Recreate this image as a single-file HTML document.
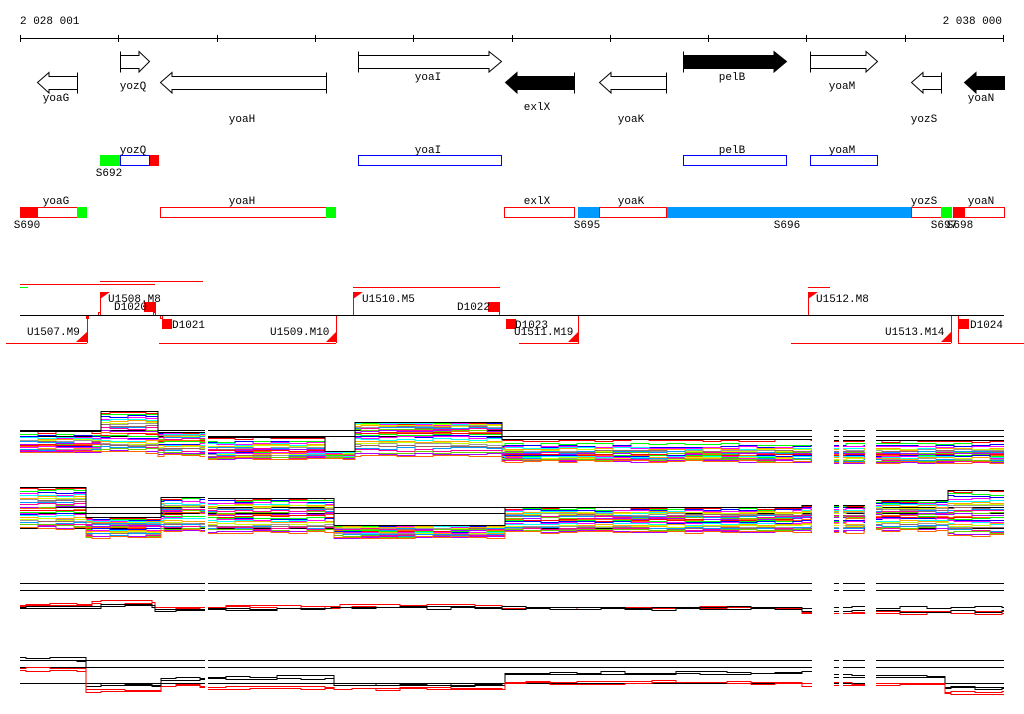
<!DOCTYPE html>
<html><head><meta charset="utf-8"><style>
html,body{margin:0;padding:0;background:#fff;width:1024px;height:714px;overflow:hidden}
svg{display:block}
text{font-family:"Liberation Mono",monospace;font-size:11px;fill:#000}
</style></head><body>
<svg id="s" width="1024" height="714" viewBox="0 0 1024 714" xmlns="http://www.w3.org/2000/svg" shape-rendering="crispEdges">
<text x="20" y="24">2 028 001</text>
<text x="1002" y="24" text-anchor="end">2 038 000</text>
<line x1="20" y1="38.5" x2="1004" y2="38.5" stroke="#000"/>
<g stroke="#000">
<line x1="20.5" y1="35" x2="20.5" y2="42"/><line x1="118.5" y1="35" x2="118.5" y2="42"/><line x1="217.5" y1="35" x2="217.5" y2="42"/><line x1="315.5" y1="35" x2="315.5" y2="42"/><line x1="413.5" y1="35" x2="413.5" y2="42"/><line x1="512.5" y1="35" x2="512.5" y2="42"/><line x1="610.5" y1="35" x2="610.5" y2="42"/><line x1="708.5" y1="35" x2="708.5" y2="42"/><line x1="806.5" y1="35" x2="806.5" y2="42"/><line x1="905.5" y1="35" x2="905.5" y2="42"/><line x1="1003.5" y1="35" x2="1003.5" y2="42"/>
</g>
<g stroke="#000" fill="#fff" shape-rendering="auto">
<path d="M77.5,72.5 V93.5 M77.5,76.5 H49 V72.5 L37.5,82.5 L49,93 V89.5 H77.5"/>
<path d="M120.5,51.5 V72.5 M120.5,55.5 H139 V51.5 L149.5,61.5 L139,72 V68.5 H120.5"/>
<path d="M326.5,72.5 V93.5 M326.5,76.5 H172 V72.5 L160.5,82.5 L172,93 V89.5 H326.5"/>
<path d="M358.5,51.5 V72.5 M358.5,55.5 H489 V51.5 L501.5,61.5 L489,72 V68.5 H358.5"/>
<path d="M574.5,72.5 V93.5 M574.5,76.5 H517 V72.5 L505.5,82.5 L517,93 V89.5 H574.5 Z" fill="#000"/>
<path d="M666.5,72.5 V93.5 M666.5,76.5 H611 V72.5 L599.5,82.5 L611,93 V89.5 H666.5"/>
<path d="M683.5,51.5 V72.5 M683.5,55.5 H774 V51.5 L786.5,61.5 L774,72 V68.5 H683.5 Z" fill="#000"/>
<path d="M810.5,51.5 V72.5 M810.5,55.5 H866 V51.5 L877.5,61.5 L866,72 V68.5 H810.5"/>
<path d="M941.5,72.5 V93.5 M941.5,76.5 H923 V72.5 L911.5,82.5 L923,93 V89.5 H941.5"/>
<path d="M1004.5,76.5 H976 V72.5 L964.5,82.5 L976,93 V89.5 H1004.5 Z" fill="#000"/>
</g>
<text x="56" y="101" text-anchor="middle">yoaG</text>
<text x="133" y="89" text-anchor="middle">yozQ</text>
<text x="242" y="122" text-anchor="middle">yoaH</text>
<text x="428" y="80" text-anchor="middle">yoaI</text>
<text x="537" y="110" text-anchor="middle">exlX</text>
<text x="631" y="122" text-anchor="middle">yoaK</text>
<text x="732" y="80" text-anchor="middle">pelB</text>
<text x="842" y="89" text-anchor="middle">yoaM</text>
<text x="924" y="122" text-anchor="middle">yozS</text>
<text x="981" y="101" text-anchor="middle">yoaN</text>
<rect x="100" y="155" width="20" height="11" fill="#00ff00"/>
<rect x="149" y="155" width="10" height="11" fill="#ff0000"/>
<g fill="none" stroke="#0000ff">
<rect x="120.5" y="155.5" width="29" height="10"/>
<rect x="358.5" y="155.5" width="143" height="10"/>
<rect x="683.5" y="155.5" width="103" height="10"/>
<rect x="810.5" y="155.5" width="67" height="10"/>
</g>
<text x="133" y="153" text-anchor="middle">yozQ</text>
<text x="109" y="176" text-anchor="middle">S692</text>
<text x="428" y="153" text-anchor="middle">yoaI</text>
<text x="732" y="153" text-anchor="middle">pelB</text>
<text x="842" y="153" text-anchor="middle">yoaM</text>
<rect x="578" y="207" width="21" height="11" fill="#0099ff"/>
<rect x="666" y="207" width="245" height="11" fill="#0099ff"/>
<g fill="none" stroke="#ff0000">
<rect x="20.5" y="207.5" width="57" height="10"/>
<rect x="160.5" y="207.5" width="166" height="10"/>
<rect x="504.5" y="207.5" width="70" height="10"/>
<rect x="599.5" y="207.5" width="67" height="10"/>
<rect x="911.5" y="207.5" width="30" height="10"/>
<rect x="953.5" y="207.5" width="51" height="10"/>
</g>
<rect x="20" y="207" width="18" height="11" fill="#ff0000"/>
<rect x="77" y="207" width="10" height="11" fill="#00ff00"/>
<rect x="326" y="207" width="10" height="11" fill="#00ff00"/>
<rect x="941" y="207" width="11" height="11" fill="#00ff00"/>
<rect x="954" y="207" width="11" height="11" fill="#ff0000"/>
<text x="56" y="204" text-anchor="middle">yoaG</text>
<text x="242" y="204" text-anchor="middle">yoaH</text>
<text x="537" y="204" text-anchor="middle">exlX</text>
<text x="631" y="204" text-anchor="middle">yoaK</text>
<text x="924" y="204" text-anchor="middle">yozS</text>
<text x="981" y="204" text-anchor="middle">yoaN</text>
<text x="27" y="228" text-anchor="middle">S690</text>
<text x="587" y="228" text-anchor="middle">S695</text>
<text x="787" y="228" text-anchor="middle">S696</text>
<text x="944" y="228" text-anchor="middle">S697</text>
<text x="960" y="228" text-anchor="middle">S698</text>
<g stroke="#ff0000" fill="none">
<line x1="20" y1="284.5" x2="155" y2="284.5"/>
<line x1="100" y1="281.5" x2="203" y2="281.5"/>
<line x1="353" y1="287.5" x2="500" y2="287.5"/>
<line x1="808" y1="287.5" x2="830" y2="287.5"/>
<line x1="6" y1="343.5" x2="87" y2="343.5"/>
<line x1="159" y1="343.5" x2="336" y2="343.5"/>
<line x1="519" y1="343.5" x2="579" y2="343.5"/>
<line x1="791" y1="343.5" x2="951" y2="343.5"/>
<line x1="958" y1="343.5" x2="1024" y2="343.5"/>
<line x1="100.5" y1="292" x2="100.5" y2="315"/>
<line x1="155.5" y1="302" x2="155.5" y2="315"/>
<line x1="87.5" y1="315" x2="87.5" y2="343"/>
<line x1="336.5" y1="315" x2="336.5" y2="343"/>
<line x1="353.5" y1="292" x2="353.5" y2="315"/>
<line x1="499.5" y1="302" x2="499.5" y2="315"/>
<line x1="578.5" y1="315" x2="578.5" y2="343"/>
<line x1="808.5" y1="292" x2="808.5" y2="315"/>
<line x1="951.5" y1="315" x2="951.5" y2="343"/>
<line x1="958.5" y1="315" x2="958.5" y2="343"/>
<rect x="98.5" y="312.5" width="2" height="3"/>
<rect x="153.5" y="312.5" width="2" height="3"/>
<rect x="160.5" y="315.5" width="2" height="3"/>
<rect x="86.5" y="315.5" width="2" height="3"/>
</g>
<line x1="20" y1="315.5" x2="1004" y2="315.5" stroke="#000"/>
<line x1="20" y1="287.5" x2="28" y2="287.5" stroke="#00ff00"/>
<g fill="#ff0000" shape-rendering="auto">
<polygon points="100,292 110,292 100,299"/>
<polygon points="353,292 363,292 353,299"/>
<polygon points="808,292 818,292 808,299"/>
<polygon points="88,331 88,342 76,342"/>
<polygon points="337,331 337,342 326,342"/>
<polygon points="579,331 579,342 568,342"/>
<polygon points="952,331 952,342 941,342"/>
</g>
<g fill="#ff0000">
<rect x="144" y="302" width="11" height="10"/>
<rect x="162" y="319" width="10" height="10"/>
<rect x="488" y="302" width="11" height="10"/>
<rect x="506" y="319" width="10" height="10"/>
<rect x="958" y="319" width="11" height="10"/>
</g>
<text x="108" y="302">U1508.M8</text>
<text x="114" y="310">D1020</text>
<text x="27" y="335">U1507.M9</text>
<text x="172" y="328">D1021</text>
<text x="270" y="335">U1509.M10</text>
<text x="362" y="302">U1510.M5</text>
<text x="457" y="310">D1022</text>
<text x="515" y="328">D1023</text>
<text x="514" y="335">U1511.M19</text>
<text x="816" y="302">U1512.M8</text>
<text x="885" y="335">U1513.M14</text>
<text x="970" y="328">D1024</text>
<g id="plots"></g>
</svg>
<script>
(function(){
var g=document.getElementById('plots');
var NS='http://www.w3.org/2000/svg';
var seed=7;function r(){seed=(seed*16807)%2147483647;return seed/2147483647;}
var cols=['#ff0000','#00ff00','#0000ff','#ff00ff','#00ffff','#ffa500','#ccff00','#999999','#996666','#0099ff','#ff0099','#66cc00','#aa00ff','#ff6600'];
var colsX=[[20,205],[208,812],[834,839],[843,865],[876,1004]];
function add(tag,attrs){var e=document.createElementNS(NS,tag);for(var k in attrs)e.setAttribute(k,attrs[k]);g.appendChild(e);return e;}
function hl(y,x0,x1){colsX.forEach(function(c){add('line',{x1:c[0],x2:c[1],y1:y+0.5,y2:y+0.5,stroke:'#000'});});}
// build a continuous path across columns given a function y(x)
function pathOf(fy){var d='';colsX.forEach(function(c){var py=null;for(var x=c[0];x<=c[1];x+=3){var y=Math.round(fy(x))+0.5;if(py===null){d+='M'+x+','+y;}else if(y!==py){d+=' L'+x+','+py+' L'+x+','+y;}py=y;}d+=' L'+c[1]+','+py+' ';});return d;}
function segY(segs,x,f){for(var i=0;i<segs.length;i++){var s=segs[i];if(x<s[1]||i===segs.length-1){return s[2]+(s[3]-s[2])*Math.pow(f,s[4]||1);}}}
function panel(segs,n,refs){
  refs.forEach(function(y){hl(y);});
  for(var i=0;i<n;i++){
    var f=i/(n-1);var col=cols[i%cols.length];
    var off=0,lastx=-1;
    var noise={};
    var d=pathOf(function(x){var k=Math.floor(x/18);if(noise[k]===undefined){noise[k]=Math.round((r()-0.5)*2.4);}return segY(segs,x,f)+noise[k];});
    add('path',{d:d,stroke:col,fill:'none'});
  }
  // black top line
  add('path',{d:pathOf(function(x){return segY(segs,x,0)-1;}),stroke:'#000',fill:'none'});
}
panel([[20,100,432,452,0.6],[100,156,412,452,0.9],[156,205,433,455,1.5],[208,325,438,458,0.6],[325,355,452,459,1],[355,500,423,456,1.8],[500,815,440,461,0.5],[815,1004,441,462,0.6]],28,[430,436]);
panel([[20,85,488,528,0.9],[85,160,518,537,1.0],[160,205,498,530,1.0],[208,333,499,532,1.0],[333,505,526,537,1.2],[505,800,508,532,1.0],[800,870,506,532,1],[870,946,501,530,1],[946,1004,491,535,0.8]],28,[507,513,528]);
hl(583);hl(590);
function trace(segs,col){var nz={};add('path',{d:pathOf(function(x){var k=Math.floor(x/25);if(nz[k]===undefined)nz[k]=Math.round((r()-0.5)*2);return segY(segs,x,0)+nz[k];}),stroke:col,fill:'none'});}
function S(a){return a.map(function(s){return [s[0],s[1],s[2],s[2]];});}
trace(S([[20,90,605],[90,155,601],[155,205,606],[208,340,606],[340,500,604],[500,800,607],[800,1004,611]]),'#ff0000');
trace(S([[20,90,604],[90,155,603],[155,205,608],[208,340,607],[340,500,606],[500,800,608],[800,1004,613]]),'#ff0000');
trace(S([[20,100,606],[100,155,605],[155,205,609],[208,330,608],[330,500,607],[500,1004,607]]),'#000');
trace(S([[20,100,608],[100,155,606],[155,205,610],[208,330,609],[330,500,608],[500,800,609],[800,1004,611]]),'#000');
hl(660);hl(667);hl(683);
trace(S([[20,85,658],[85,160,684],[160,205,677],[208,333,676],[333,505,684],[505,800,672],[800,830,670],[830,945,675],[945,1004,686]]),'#000');
trace(S([[20,85,660],[85,160,685],[160,205,679],[208,333,678],[333,505,685],[505,800,674],[800,830,672],[830,945,677],[945,1004,688]]),'#000');
trace(S([[20,85,668],[85,160,689],[160,205,685],[208,333,686],[333,505,688],[505,800,681],[800,830,684],[830,945,683],[945,1004,692]]),'#ff0000');
trace(S([[20,85,670],[85,160,691],[160,205,686],[208,333,688],[333,505,689],[505,800,683],[800,830,686],[830,945,685],[945,1004,694]]),'#ff0000');
})();
</script>
</body></html>
